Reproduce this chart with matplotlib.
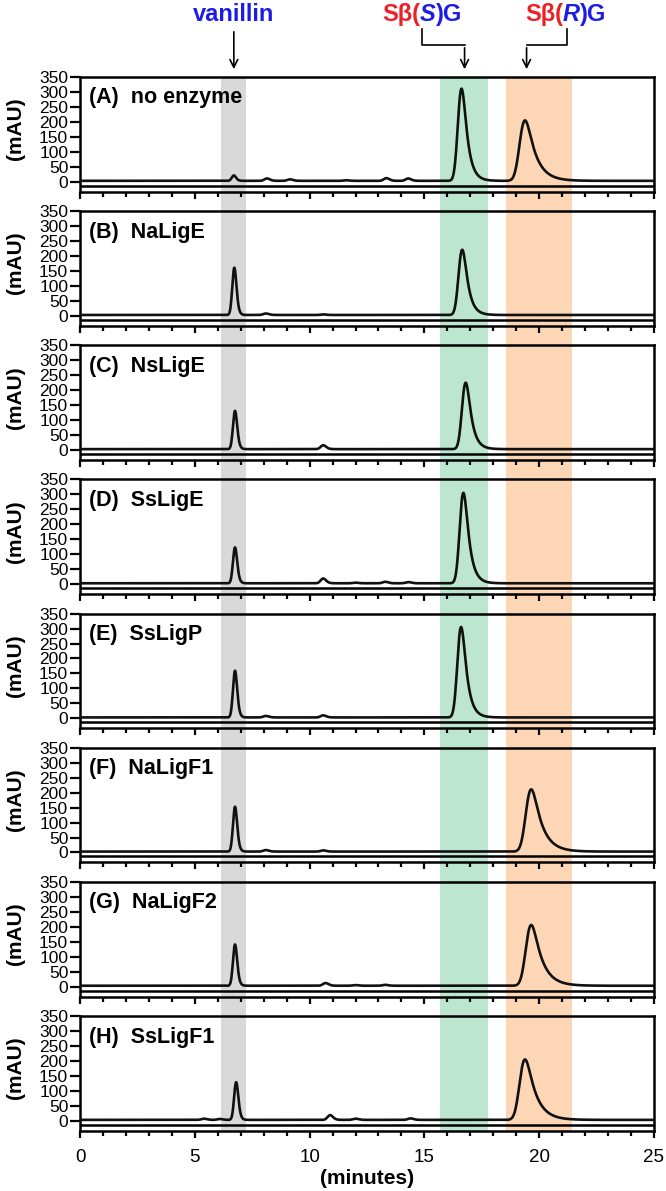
import numpy as np
import matplotlib
matplotlib.use("Agg")
import matplotlib.pyplot as plt
from matplotlib.transforms import blended_transform_factory
from matplotlib.patches import Rectangle
from matplotlib.lines import Line2D

plt.rcParams['font.family'] = ['Liberation Sans', 'DejaVu Sans']

# --- data ---
panel_names = ['(A)  no enzyme', '(B)  NaLigE', '(C)  NsLigE', '(D)  SsLigE',
               '(E)  SsLigP', '(F)  NaLigF1', '(G)  NaLigF2', '(H)  SsLigF1']

# vanillin peak (retention time in minutes, height in mAU)
vanillin_rt = [6.7, 6.72, 6.75, 6.75, 6.75, 6.75, 6.75, 6.8]
vanillin_h = [18, 158, 128, 120, 156, 150, 138, 126]

# S-beta(S)G peak
ssg_rt = [16.62, 16.65, 16.8, 16.7, 16.6, 16.7, 16.7, 16.7]
ssg_h = [308, 218, 222, 302, 302, 0, 0, 0]

# S-beta(R)G peak
srg_rt = [19.38, 19.5, 19.5, 19.5, 19.5, 19.65, 19.65, 19.38]
srg_h = [202, 0, 0, 0, 0, 208, 203, 202]

# small side peaks for each panel
minor_rt = [[8.15, 9.15, 11.6, 13.35, 14.3],
            [8.1, 10.6],
            [10.6],
            [10.6, 12.0, 13.3, 14.3],
            [8.1, 10.6],
            [8.1, 10.6],
            [10.7, 12.0, 13.3],
            [5.4, 6.1, 10.9, 12.0, 14.4]]
minor_h = [[8, 5, 2, 9, 8],
           [5, 2],
           [13],
           [16, 2, 5, 4],
           [5, 7],
           [5, 4],
           [9, 2, 3],
           [4, 3, 16, 4, 5]]

baseline_level = 3

# shaded retention windows (minutes)
band_starts = [6.15, 15.7, 18.55]
band_ends = [7.25, 17.75, 21.45]
band_colors = ['#d9d9d9', '#bde6d0', '#fdd6b6']

yticks = [0, 50, 100, 150, 200, 250, 300, 350]
xticks = [0, 5, 10, 15, 20, 25]

t = np.linspace(0, 25, 2501)
dt = t[1] - t[0]


def peak(t0, h, sigma, tau):
    # gaussian with exponential tailing, apex put at t0 and scaled to h
    g = np.exp(-0.5 * ((t - 12.5) / sigma) ** 2)
    k = np.exp(-np.arange(0, 8 * tau, dt) / tau)
    y = np.convolve(g, k)[:len(t)]
    y = y / y.max()
    shift = t0 - t[np.argmax(y)]
    return h * np.interp(t - shift, t, y, left=0, right=0)


W, H = 666, 1191
fig = plt.figure(figsize=(W / 100, H / 100), dpi=100)

axes = []
for i in range(8):
    top = 77 + 134.15 * i
    height = 114.6
    ax = fig.add_axes([80 / W, 1 - (top + height) / H, 574 / W, height / H])
    ax.set_facecolor('none')
    ax.set_xlim(0, 25)
    ax.set_ylim(-33, 350)

    y = np.full_like(t, baseline_level, dtype=float)
    y += peak(vanillin_rt[i], vanillin_h[i], 0.08, 0.06)
    if ssg_h[i] > 0:
        y += peak(ssg_rt[i], ssg_h[i], 0.13, 0.22)
    if srg_h[i] > 0:
        y += peak(srg_rt[i], srg_h[i], 0.18, 0.42)
    for rt, h in zip(minor_rt[i], minor_h[i]):
        y += peak(rt, h, 0.1, 0.08)
    ax.plot(t, y, color='#111111', lw=1.9, zorder=3)

    ax.axhline(-13, color='black', lw=1.8)
    for sp in ax.spines.values():
        sp.set_linewidth(1.8)

    ax.set_yticks(yticks)
    ax.set_xticks(xticks)
    ax.set_xticks(np.arange(0, 26, 1), minor=True)
    ax.tick_params(axis='y', direction='out', length=7, width=1.6, labelsize=12.5, pad=1.5)
    ax.tick_params(axis='x', which='major', direction='out', length=5, width=1.6,
                   labelsize=13.5, pad=8)
    ax.tick_params(axis='x', which='minor', direction='out', length=3.5, width=1.6)
    if i < 7:
        ax.set_xticklabels([])

    ax.text(9 / 574, 1 - 21 / height, panel_names[i], transform=ax.transAxes,
            fontsize=15.5, fontweight='bold', va='center', ha='left')
    fig.text(16 / W, 1 - (top + 52) / H, '(mAU)', rotation=90, fontsize=15,
             fontweight='bold', va='center', ha='center')
    axes.append(ax)

fig.text(367 / W, 1 - 1179 / H, '(minutes)', fontsize=15, fontweight='bold',
         ha='center', va='center')

# shaded bands spanning all panels
trans = blended_transform_factory(axes[0].transData, fig.transFigure)
band_top = 1 - 77 / H
band_bottom = 1 - 1131 / H
for x0, x1, c in zip(band_starts, band_ends, band_colors):
    fig.add_artist(Rectangle((x0, band_bottom), x1 - x0, band_top - band_bottom,
                             transform=trans, facecolor=c, edgecolor='none', zorder=-1))

# header labels
red = '#ee1f26'
blue = '#1c1ce6'
renderer = fig.canvas.get_renderer()


def color_text(xc, pieces, ybase=1 - 21 / H):
    texts, widths = [], []
    for s, c, st in pieces:
        tx = fig.text(0, ybase, s, color=c, style=st, fontsize=17, fontweight='bold',
                      va='baseline', ha='left')
        widths.append(tx.get_window_extent(renderer).width)
        texts.append(tx)
    x_px = axes[0].transData.transform((xc, 0))[0] - sum(widths) / 2
    for tx, w in zip(texts, widths):
        tx.set_x(x_px / W)
        x_px += w


color_text(6.7, [('vanillin', blue, 'normal')])
color_text(14.9, [('S\u03b2(', red, 'normal'), ('S', blue, 'italic'), (')G', blue, 'normal')])
color_text(21.15, [('S\u03b2(', red, 'normal'), ('R', blue, 'italic'), (')G', blue, 'normal')])

y_start = 1 - 29 / H
y_elbow = 1 - 45 / H
y_tip = 1 - 72 / H
arrow = dict(arrowstyle='->', lw=1.2, color='black', mutation_scale=14)
axes[0].annotate('', xy=(6.7, y_tip), xytext=(6.7, y_start), xycoords=trans,
                 textcoords=trans, arrowprops=arrow, annotation_clip=False)
for x_txt, x_pk in [(14.9, 16.75), (21.2, 19.45)]:
    fig.add_artist(Line2D([x_txt, x_txt, x_pk], [y_start, y_elbow, y_elbow],
                          transform=trans, color='black', lw=1.2))
    axes[0].annotate('', xy=(x_pk, y_tip), xytext=(x_pk, y_elbow), xycoords=trans,
                     textcoords=trans, arrowprops=arrow, annotation_clip=False)

fig.savefig('out.png', dpi=100)
